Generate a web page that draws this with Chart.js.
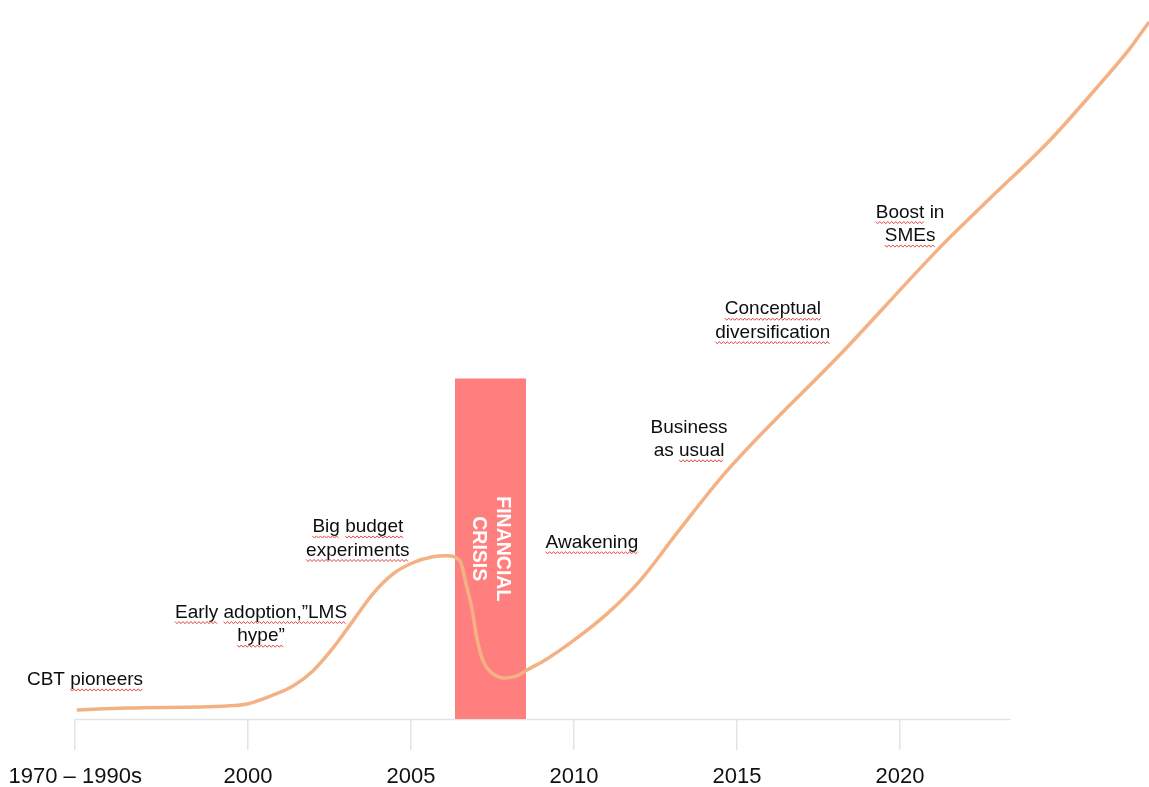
<!DOCTYPE html>
<html>
<head>
<meta charset="utf-8">
<script src="https://cdn.jsdelivr.net/npm/chart.js@4.4.1/dist/chart.umd.min.js"></script>
<style>
  html, body { margin: 0; padding: 0; background: #fff; }
  #wrap { width: 1149px; height: 787px; position: relative; }
</style>
</head>
<body>
<div id="wrap"><canvas id="myChart"></canvas></div>
<script>
// x axis ticks (years) and their labels
const tickYears = [1994.7, 2000, 2005, 2010, 2015, 2020];
const tickLabels = ['1970 – 1990s', '2000', '2005', '2010', '2015', '2020'];
const axisEnd = 2023.4;

// the adoption curve (level 0-100)
const curveYears = [1994.75, 1996.29, 1999.36, 1999.97, 2000.77, 2001.38, 2001.99, 2002.61, 2003.22, 2003.83,
  2004.45, 2005.06, 2005.67, 2006.10, 2006.50, 2006.69, 2006.87, 2007.02, 2007.21, 2007.52,
  2007.88, 2008.25, 2008.56, 2009.17, 2009.97, 2011.01, 2012.02, 2013.25, 2014.69, 2018.34,
  2021.17, 2022.70, 2024.60, 2026.13, 2027.06, 2027.64];
const curveLevels = [1.25, 1.53, 1.81, 2.09, 3.34, 4.60, 6.69, 9.89, 13.65, 17.41,
  20.19, 21.73, 22.56, 22.70, 22.01, 18.8, 15.32, 11.28, 8.08, 6.27,
  5.71, 5.99, 6.82, 8.36, 10.86, 14.62, 19.22, 26.4, 34.5, 51.53,
  65.32, 72.14, 80.50, 88.30, 93.31, 96.94];

// financial crisis band
const crisisYears = [2006.35, 2006.35, 2008.53, 2008.53];
const crisisLevels = [0, 47.35, 47.35, 0];
const crisisLabel = ['FINANCIAL', 'CRISIS'];

// phase labels
const phaseNames = [
  ['CBT pioneers'],
  ['Early adoption,”LMS', 'hype”'],
  ['Big budget', 'experiments'],
  ['Awakening'],
  ['Business', 'as usual'],
  ['Conceptual', 'diversification'],
  ['Boost in', 'SMEs']
];
const phaseYears = [1995.0, 2000.4, 2003.37, 2010.55, 2013.53, 2016.1, 2020.31];
const phaseLevels = [5.43, 13.16, 25.07, 24.51, 38.93, 55.36, 68.8];
// words the slide's spell checker flagged (red wavy underline)
const flagged = ['pioneers', 'Early', 'adoption,”LMS', 'hype”', 'Big', 'budget', 'experiments',
  'Awakening', 'usual', 'Conceptual', 'diversification', 'Boost', 'SMEs'];

const FONT = '"Liberation Sans", Arial, sans-serif';

function squiggle(ctx, x0, x1, yy) {
  ctx.beginPath();
  let k = 0;
  for (let xx = x0; xx <= x1; xx += 2, k++) {
    const yv = yy + (k % 2 ? 1.1 : -1.1);
    if (k === 0) ctx.moveTo(xx, yv); else ctx.lineTo(xx, yv);
  }
  ctx.stroke();
}

const annotate = {
  id: 'annotate',
  beforeDatasetsDraw(chart) {
    const {ctx, scales: {x}, chartArea} = chart;
    ctx.save();
    ctx.strokeStyle = '#e4e4e4';
    ctx.lineWidth = 1.5;
    ctx.beginPath();
    ctx.moveTo(x.getPixelForValue(tickYears[0]), chartArea.bottom + 0.5);
    ctx.lineTo(x.getPixelForValue(axisEnd), chartArea.bottom + 0.5);
    ctx.stroke();
    ctx.restore();
  },
  afterDatasetsDraw(chart) {
    const {ctx, scales: {x, y}} = chart;
    ctx.save();

    // rotated crisis label
    const cx = x.getPixelForValue((crisisYears[0] + crisisYears[2]) / 2);
    const cy = y.getPixelForValue(crisisLevels[1] / 2);
    ctx.translate(cx, cy);
    ctx.rotate(Math.PI / 2);
    ctx.fillStyle = '#ffffff';
    ctx.font = 'bold 19.5px ' + FONT;
    ctx.textAlign = 'center';
    ctx.textBaseline = 'middle';
    ctx.fillText(crisisLabel[0], 0, -12);
    ctx.fillText(crisisLabel[1], 0, 12);
    ctx.setTransform(1, 0, 0, 1, 0, 0);

    // phase labels
    ctx.font = '19px ' + FONT;
    ctx.textAlign = 'left';
    ctx.textBaseline = 'middle';
    ctx.lineWidth = 1;
    const space = ctx.measureText(' ').width;
    phaseNames.forEach((lines, i) => {
      const px = x.getPixelForValue(phaseYears[i]);
      const py = y.getPixelForValue(phaseLevels[i]);
      lines.forEach((line, j) => {
        const ly = py + (j - (lines.length - 1) / 2) * 23.5;
        let sx = px - ctx.measureText(line).width / 2;
        ctx.fillStyle = '#0d0d0d';
        ctx.fillText(line, sx, ly);
        line.split(' ').forEach(word => {
          const w = ctx.measureText(word).width;
          if (flagged.includes(word)) {
            ctx.strokeStyle = '#e5483f';
            squiggle(ctx, sx, sx + w, ly + 10);
          }
          sx += w + space;
        });
      });
    });
    ctx.restore();
  }
};

const ctx = document.getElementById('myChart').getContext('2d');

const myChart = new Chart(ctx, {
  type: 'line',
  data: {
    datasets: [{
      label: 'Adoption',
      data: curveYears.map((v, i) => ({x: v, y: curveLevels[i]})),
      borderColor: '#F4B183',
      borderWidth: 3.5,
      pointRadius: 0,
      cubicInterpolationMode: 'monotone',
      fill: false
    }, {
      label: 'Financial crisis',
      data: crisisYears.map((v, i) => ({x: v, y: crisisLevels[i]})),
      borderWidth: 0,
      borderColor: 'rgba(0,0,0,0)',
      backgroundColor: '#FF7F7F',
      pointRadius: 0,
      tension: 0,
      fill: 'origin'
    }]
  },
  options: {
    responsive: true,
    maintainAspectRatio: false,
    animation: false,
    events: [],
    layout: { padding: 0 },
    plugins: {
      legend: { display: false },
      tooltip: { enabled: false }
    },
    scales: {
      x: {
        type: 'linear',
        min: 1992.393,
        max: 2027.638,
        afterBuildTicks: s => { s.ticks = tickYears.map(v => ({value: v})); },
        afterFit: s => { s.height = 68; s.paddingLeft = 0; s.paddingRight = 0; },
        ticks: {
          callback: (v, i) => tickLabels[i],
          font: { size: 22, family: FONT },
          color: '#111111',
          padding: 14,
          maxRotation: 0,
          autoSkip: false
        },
        grid: { drawOnChartArea: false, drawTicks: true, tickLength: 31, color: '#e4e4e4', lineWidth: 1.5 },
        border: { display: false }
      },
      y: { display: false, min: 0, max: 100 }
    }
  },
  plugins: [annotate]
});
</script>
</body>
</html>
